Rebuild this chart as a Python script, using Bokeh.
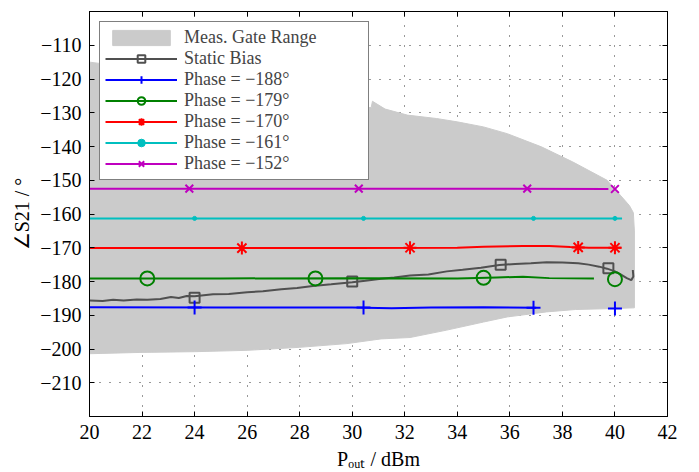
import numpy as np
from bokeh.plotting import figure
from bokeh.models import (Range1d, FixedTicker, LinearAxis, Legend,
                          LegendItem, CustomJSTickFormatter)
from bokeh.embed import file_html
from bokeh.resources import INLINE

# ---------------- data ----------------
x_ticks = [20, 22, 24, 26, 28, 30, 32, 34, 36, 38, 40, 42]
x_tick_labels = ["20", "22", "24", "26", "28", "30", "32", "34", "36", "38", "40", "42"]
y_ticks = [-210, -200, -190, -180, -170, -160, -150, -140, -130, -120, -110]
y_tick_labels = ["−210", "−200", "−190", "−180", "−170", "−160", "−150", "−140", "−130", "−120", "−110"]
x_title = "Pₒᵤₜ / dBm"
y_title = "∠S21 / °"

# measured gate range (upper edge left->right, lower edge left->right)
gate_upper_x = [20.0, 22.0, 24.0, 26.0, 28.0, 30.0, 30.5, 30.72, 30.77, 31.25, 32.1, 33.2, 34.0,
                35.0, 35.9, 37.2, 38.4, 39.7, 40.2, 40.55, 40.7, 40.74, 40.74]
gate_upper_y = [-115.0, -117.0, -119.5, -122.0, -124.5, -127.0, -128.3, -128.5, -126.6, -128.9, -130.7, -131.7, -132.7,
                -134.2, -136.2, -140.1, -144.6, -150.0, -154.4, -157.5, -159.6, -165.0, -187.8]
gate_lower_x = [20.0, 22.0, 24.0, 26.0, 28.0, 29.8, 31.1, 32.2, 33.6, 35.0, 35.9, 37.4, 38.5, 40.0, 40.74]
gate_lower_y = [-201.4, -201.0, -200.8, -200.4, -199.5, -198.4, -197.0, -196.6, -194.4, -192.0, -190.5,
                -189.0, -188.3, -188.0, -187.8]

# static bias
static_x = [20.0, 20.5, 20.9, 21.3, 21.8, 22.2, 22.7, 23.1, 23.4, 23.7, 24.0, 24.7, 25.3, 26.0, 26.6,
            27.3, 27.9, 28.5, 29.2, 30.0, 30.5, 31.1, 31.6, 32.2, 32.9, 33.6, 34.2, 34.9, 35.6, 36.2,
            36.8, 37.4, 38.0, 38.6, 39.0, 39.4, 39.7, 40.0, 40.2, 40.45, 40.62, 40.7, 40.68]
static_y = [-185.6, -185.8, -185.4, -185.6, -185.3, -185.4, -185.2, -184.6, -184.9, -184.3, -184.4,
            -183.8, -183.7, -183.2, -182.9, -182.3, -181.9, -181.3, -180.8, -180.2, -179.8, -179.2,
            -178.8, -178.2, -177.9, -177.0, -176.5, -175.9, -175.1, -174.8, -174.6, -174.3, -174.4,
            -174.6, -175.0, -175.6, -176.2, -177.0, -177.8, -179.0, -179.6, -178.5, -176.6]
static_mx = [24.0, 30.0, 35.65, 39.75]
static_my = [-184.8, -180.0, -175.0, -176.1]

# phase = -188
p188_x = [20.0, 25.0, 30.0, 31.5, 33.0, 35.0, 37.0]
p188_y = [-187.6, -187.7, -187.7, -187.9, -187.7, -187.6, -187.8]
p188_mx = [24.0, 30.43, 36.9, 40.0]
p188_my = [-187.7, -187.7, -187.8, -188.0]

# phase = -179
p179_x = [20.0, 25.0, 30.0, 34.0, 35.5, 36.5, 37.5, 39.2]
p179_y = [-179.1, -179.1, -179.0, -179.1, -178.8, -178.6, -179.0, -179.1]
p179_mx = [22.2, 28.6, 35.0, 40.0]
p179_my = [-179.1, -179.1, -178.9, -179.3]

# phase = -170
p170_x = [20.0, 25.0, 30.0, 34.0, 35.0, 36.5, 37.5, 38.3, 39.0, 40.25]
p170_y = [-170.1, -170.1, -170.1, -170.0, -169.7, -169.5, -169.5, -169.8, -170.0, -170.0]
p170_mx = [25.8, 32.2, 38.6, 40.0]
p170_my = [-170.1, -170.0, -169.9, -170.0]

# phase = -161
p161_x = [20.0, 25.0, 30.0, 35.0, 40.27]
p161_y = [-161.3, -161.3, -161.3, -161.3, -161.3]
p161_mx = [24.0, 30.43, 36.9, 40.0]
p161_my = [-161.3, -161.3, -161.3, -161.3]

# phase = -152
p152_x = [20.0, 25.0, 30.0, 35.0, 39.75]
p152_y = [-152.5, -152.5, -152.5, -152.5, -152.6]
p152_mx = [23.8, 30.25, 36.66, 40.0]
p152_my = [-152.5, -152.5, -152.5, -152.6]

# ---------------- figure ----------------
FONT = "Liberation Serif"

p = figure(width=699, height=472, output_backend="svg", toolbar_location=None,
           x_range=Range1d(20, 42), y_range=Range1d(-220, -100))
p.min_border_left = 89
p.min_border_right = 32
p.min_border_top = 11
p.min_border_bottom = 56
p.background_fill_color = "white"
p.border_fill_color = "white"
p.outline_line_color = "black"
p.outline_line_width = 1

xax = p.below[0]
yax = p.left[0]
for ax, ticks, labels in ((xax, x_ticks, x_tick_labels), (yax, y_ticks, y_tick_labels)):
    ax.ticker = FixedTicker(ticks=ticks)
    ax.major_label_overrides = {t: l for t, l in zip(ticks, labels)}
    ax.major_label_text_font = FONT
    ax.major_label_text_font_size = "20px"
    ax.major_label_text_color = "black"
    ax.major_tick_in = 5
    ax.major_tick_out = 0
    ax.minor_tick_in = 0
    ax.minor_tick_out = 0
    ax.axis_line_color = "black"
    ax.major_tick_line_color = "black"
    ax.major_label_standoff = 8
    ax.axis_label_text_font = FONT
    ax.axis_label_text_font_size = "20px"
    ax.axis_label_text_font_style = "normal"
    ax.axis_label_text_color = "black"

xax.axis_label = x_title
xax.axis_label_standoff = 6
yax.axis_label = y_title
yax.axis_label_standoff = 4

for loc, ticks in (("above", x_ticks), ("right", y_ticks)):
    ax = LinearAxis(ticker=FixedTicker(ticks=ticks),
                    formatter=CustomJSTickFormatter(code="return ''"),
                    major_tick_in=5, major_tick_out=0, minor_tick_in=0, minor_tick_out=0,
                    major_label_text_font_size="0px", major_label_standoff=0,
                    axis_line_color="black", major_tick_line_color="black")
    p.add_layout(ax, loc)

p.xgrid.ticker = FixedTicker(ticks=x_ticks)
p.ygrid.ticker = FixedTicker(ticks=y_ticks)
for g in (p.xgrid, p.ygrid):
    g.grid_line_color = "black"
    g.grid_line_alpha = 0.8
    g.grid_line_dash = "1 9"
    g.grid_line_width = 1

# gate range patch
patch_x = gate_upper_x + gate_lower_x[::-1]
patch_y = gate_upper_y + gate_lower_y[::-1]
r_gate = p.patch(patch_x, patch_y, fill_color="#cbcbcb", line_color="#cbcbcb", line_width=1)

items = [LegendItem(label="Meas. Gate Range", renderers=[r_gate])]

series = [
    ("Static Bias", static_x, static_y, static_mx, static_my, "#505050", "square", 10, None, 2),
    ("Phase = −188°", p188_x, p188_y, p188_mx, p188_my, "#0000ff", "cross", 14, None, 2),
    ("Phase = −179°", p179_x, p179_y, p179_mx, p179_my, "#008000", "circle", 14, None, 2),
    ("Phase = −170°", p170_x, p170_y, p170_mx, p170_my, "#ff0000", "asterisk", 13, None, 2),
    ("Phase = −161°", p161_x, p161_y, p161_mx, p161_my, "#00bfbf", "circle", 4, "#00bfbf", 1),
    ("Phase = −152°", p152_x, p152_y, p152_mx, p152_my, "#bf00bf", "x", 11, None, 2),
]
for label, lx, ly, mx, my, col, mk, sz, fill, mlw in series:
    rl = p.line(lx, ly, line_color=col, line_width=2)
    rs = p.scatter(mx, my, marker=mk, size=sz, line_color=col, line_width=mlw,
                   fill_color=fill, fill_alpha=1 if fill else 0)
    items.append(LegendItem(label=label, renderers=[rl, rs]))

legend = Legend(items=items, location="top_left", margin=10, padding=5, spacing=0,
                glyph_width=72, glyph_height=19, label_height=19, label_width=179,
                label_standoff=7, label_text_font=FONT, label_text_font_size="18px",
                border_line_color="black", border_line_width=1.3,
                background_fill_color="white", background_fill_alpha=1)
p.add_layout(legend)

open("out.html", "w").write(file_html(p, INLINE))
